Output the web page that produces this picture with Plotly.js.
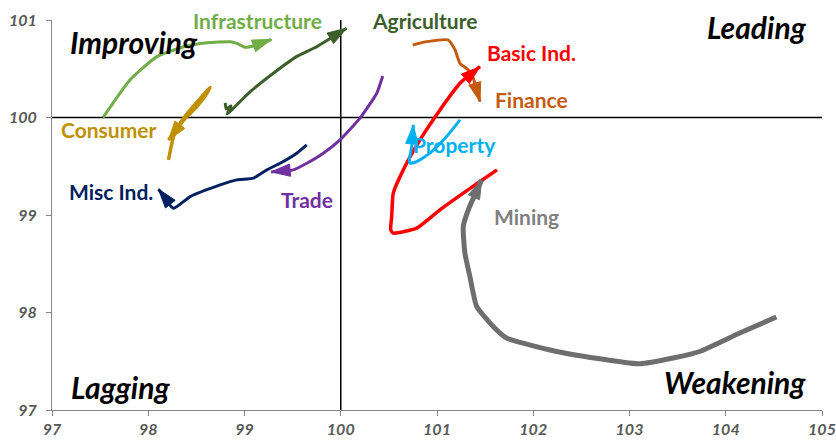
<!DOCTYPE html>
<html>
<head>
<meta charset="utf-8">
<script src="https://cdn.plot.ly/plotly-3.0.1.min.js"></script>
<style>html,body{margin:0;padding:0;background:#fff}#chart{width:836px;height:441px}</style>
</head>
<body>
<div id="chart"></div>
<script>
// ---- data (relative strength ratio x, momentum y) ----
const infraX = [97.53, 97.81, 98.09, 98.37, 98.61, 98.85, 98.92, 99.01, 99.09, 99.28];
const infraY = [100.00, 100.385, 100.624, 100.726, 100.767, 100.777, 100.761, 100.72, 100.734, 100.80];

const agriX = [98.80, 98.81, 98.86, 98.82, 99.06, 99.30, 99.54, 99.75, 100.06];
const agriY = [100.149, 100.088, 100.119, 100.037, 100.265, 100.454, 100.624, 100.726, 100.915];

const consX = [98.21, 98.238, 98.262, 98.332, 98.436, 98.557, 98.643, 98.609, 98.505, 98.401, 98.314, 98.21];
const consY = [99.565, 99.701, 99.804, 99.941, 100.078, 100.214, 100.31, 100.249, 100.111, 100.009, 99.906, 99.77];

const miscX = [99.647, 99.543, 99.37, 99.232, 99.093, 98.92, 98.747, 98.436, 98.262, 98.107];
const miscY = [99.719, 99.634, 99.531, 99.463, 99.378, 99.36, 99.309, 99.189, 99.07, 99.265];

const tradeX = [100.436, 100.374, 100.2, 99.993, 99.819, 99.647, 99.508, 99.277];
const tradeY = [100.426, 100.249, 99.993, 99.77, 99.634, 99.531, 99.463, 99.442];

const finX = [100.748, 100.893, 101.117, 101.187, 101.239, 101.325, 101.377, 101.447];
const finY = [100.744, 100.778, 100.795, 100.693, 100.556, 100.488, 100.402, 100.163];

const basicX = [101.624, 101.447, 101.273, 101.031, 100.789, 100.546, 100.519, 100.529, 100.546, 100.65, 100.823, 101.031, 101.239, 101.447];
const basicY = [99.463, 99.343, 99.224, 99.053, 98.865, 98.814, 98.848, 98.984, 99.224, 99.463, 99.77, 100.078, 100.351, 100.521];

const propX = [101.239, 101.1, 100.927, 100.789, 100.72, 100.712, 100.737, 100.754];
const propY = [99.975, 99.804, 99.634, 99.548, 99.531, 99.565, 99.701, 99.924];

const minX = [104.526, 104.145, 103.73, 103.453, 103.107, 102.761, 102.242, 101.723, 101.584, 101.412, 101.342, 101.29, 101.273, 101.325, 101.464];
const minY = [97.953, 97.789, 97.6, 97.533, 97.474, 97.515, 97.6, 97.738, 97.857, 98.062, 98.369, 98.609, 98.882, 99.053, 99.36];

const xTicks = [97, 98, 99, 100, 101, 102, 103, 104, 105];
const yTicks = [97, 98, 99, 100, 101];

const sectors = [
  {name: 'Infrastructure', x: infraX, y: infraY, color: '#70AD47', w: 3},
  {name: 'Agriculture', x: agriX, y: agriY, color: '#3B5E2B', w: 3},
  {name: 'Consumer', x: consX, y: consY, color: '#BF9000', w: 3.5},
  {name: 'Misc Ind.', x: miscX, y: miscY, color: '#002060', w: 3},
  {name: 'Trade', x: tradeX, y: tradeY, color: '#7030A0', w: 3},
  {name: 'Finance', x: finX, y: finY, color: '#C55A11', w: 3},
  {name: 'Basic Ind.', x: basicX, y: basicY, color: '#FF0000', w: 3.5},
  {name: 'Property', x: propX, y: propY, color: '#00B0F0', w: 3},
  {name: 'Mining', x: minX, y: minY, color: '#6E6E6E', w: 5}
];

const traces = sectors.map(s => ({
  type: 'scatter', mode: 'lines+markers', name: s.name,
  x: s.x, y: s.y,
  line: {color: s.color, width: s.w, shape: 'spline', smoothing: 0.5},
  marker: {
    color: s.color,
    opacity: 1,
    symbol: s.x.map((v, i) => i === s.x.length - 1 ? 'arrow' : 'circle'),
    size: s.x.map((v, i) => i === s.x.length - 1 ? 20 : 0),
    angleref: 'previous',
    line: {width: 1, color: s.color}
  },
  cliponaxis: false,
  hoverinfo: 'skip'
}));

const labelFont = 'Lato, "Open Sans", sans-serif';
function lab(text, x, y, color, size, italic) {
  return {text: text, x: x, y: y, xref: 'x', yref: 'y', showarrow: false,
    font: {family: labelFont, size: size, color: color, weight: 'bold', style: italic ? 'italic' : 'normal'},
    xanchor: 'center', yanchor: 'middle'};
}

const annotations = [
  lab('Infrastructure', 99.13, 101.0, '#70AD47', 21),
  lab('Agriculture', 100.87, 101.0, '#3B5E2B', 21),
  lab('Basic Ind.', 101.98, 100.67, '#FF0000', 21),
  lab('Finance', 101.98, 100.18, '#C55A11', 21),
  lab('Property', 101.18, 99.72, '#00B0F0', 21),
  lab('Consumer', 97.585, 99.88, '#BF9000', 21),
  lab('Misc Ind.', 97.61, 99.24, '#002060', 21),
  lab('Trade', 99.65, 99.16, '#7030A0', 21),
  lab('Mining', 101.93, 98.98, '#7F7F7F', 21),
  lab('Improving', 97.85, 100.77, '#000000', 30, true),
  lab('Leading', 104.32, 100.93, '#000000', 30, true),
  lab('Lagging', 97.71, 97.24, '#000000', 30, true),
  lab('Weakening', 104.1, 97.29, '#000000', 30, true)
];

const axisCommon = {
  showgrid: false, zeroline: false, showline: true, linecolor: '#868686', linewidth: 1,
  ticks: 'outside', ticklen: 5, tickcolor: '#868686', tickwidth: 1,
  tickfont: {family: labelFont, size: 16, color: '#595959', weight: 'bold', style: 'italic'}
};

const layout = {
  width: 836, height: 441,
  margin: {l: 52, r: 14, t: 20, b: 31},
  paper_bgcolor: '#ffffff', plot_bgcolor: '#ffffff',
  showlegend: false,
  xaxis: Object.assign({}, axisCommon, {range: [97, 105], tickvals: xTicks, ticktext: xTicks.map(String)}),
  yaxis: Object.assign({}, axisCommon, {range: [97, 101], tickvals: yTicks, ticktext: yTicks.map(String), ticklabelstandoff: 6}),
  shapes: [
    {type: 'line', xref: 'x', yref: 'paper', x0: 100, x1: 100, y0: 0, y1: 1, line: {color: '#000000', width: 1.5}, layer: 'below'},
    {type: 'line', xref: 'paper', yref: 'y', x0: 0, x1: 1, y0: 100, y1: 100, line: {color: '#000000', width: 1.5}, layer: 'below'}
  ],
  annotations: annotations
};

Plotly.newPlot('chart', traces, layout, {displayModeBar: false, staticPlot: true});
</script>
</body>
</html>
